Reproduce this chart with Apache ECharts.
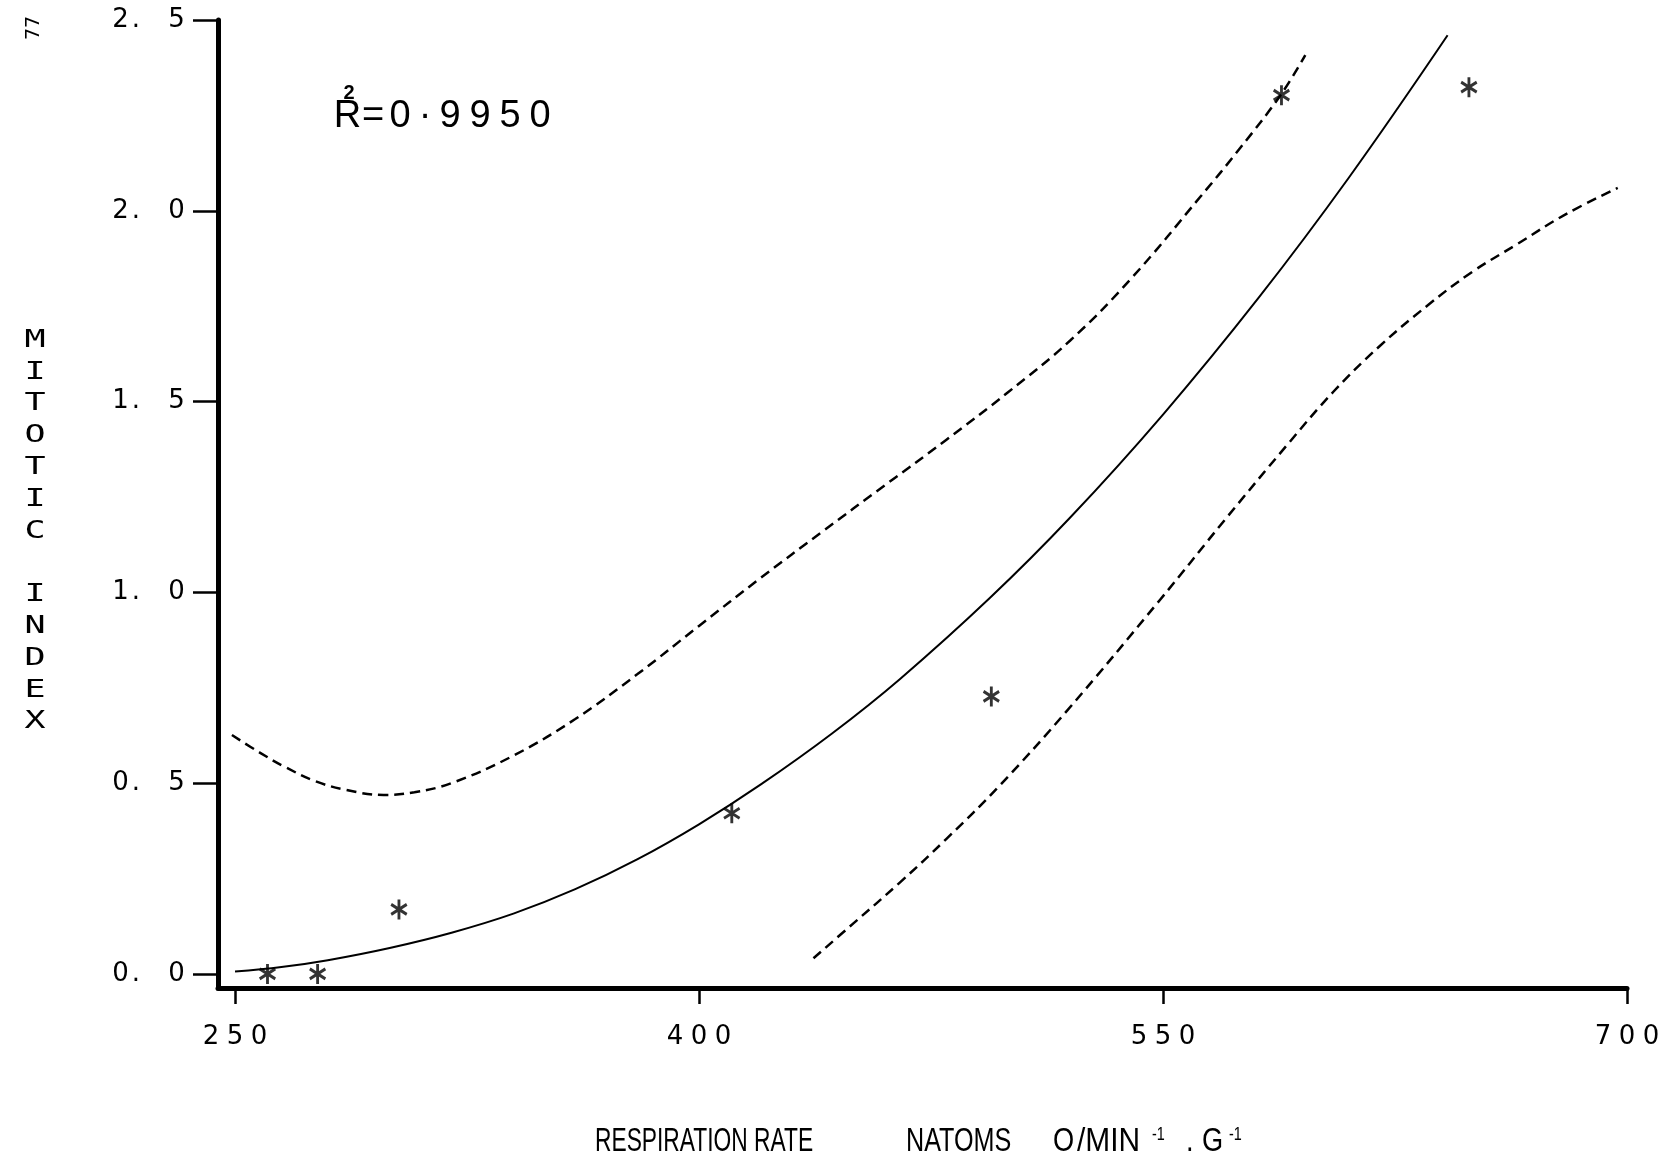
<!DOCTYPE html>
<html><head><meta charset="utf-8">
<script src="https://cdn.jsdelivr.net/npm/echarts@6/dist/echarts.min.js"></script>
<style>html,body{margin:0;padding:0;background:#fff}#c{width:1676px;height:1164px}</style>
</head><body><div id="c"></div>
<script>
// ---- data ----
const xTicks = [250, 400, 550, 700];
const yTicks = [0, 0.5, 1.0, 1.5, 2.0, 2.5];
const obsX = [260.5, 276.7, 303.0, 410.6, 494.5, 588.3, 648.9];
const obsY = [0.0, 0.0, 0.169, 0.421, 0.727, 2.303, 2.324];
const fitX = [250, 265, 280, 300, 320, 340, 360, 380, 400, 420, 443, 465, 494, 520, 550, 581, 610, 642];
const fitY = [0.006, 0.018, 0.036, 0.068, 0.108, 0.158, 0.222, 0.3, 0.392, 0.4965, 0.63, 0.773, 0.985, 1.196, 1.466, 1.773, 2.086, 2.46];
const upperX = [249, 258, 266, 276, 286, 298, 308, 320, 340, 360, 380, 400, 420, 440, 460, 480, 500, 520, 540, 562, 575, 588, 596];
const upperY = [0.626, 0.58, 0.543, 0.505, 0.482, 0.469, 0.476, 0.5, 0.572, 0.668, 0.785, 0.912, 1.038, 1.16, 1.28, 1.40, 1.525, 1.66, 1.825, 2.036, 2.165, 2.303, 2.408];
const lowerX = [437, 450, 465, 480, 497, 519, 549, 570, 590, 605, 620, 636, 650, 664, 680, 697];
const lowerY = [0.041, 0.133, 0.24, 0.354, 0.492, 0.69, 0.98, 1.19, 1.385, 1.525, 1.645, 1.755, 1.84, 1.91, 1.99, 2.06];
const rSquaredText = '0·9950';
const yTitle = 'MITOTIC INDEX';
const xTitleParts = ['RESPIRATION RATE', 'NATOMS', 'O', '/MIN', '-1', '.', 'G', '-1'];
const pageNo = '77';

// ---- layout (positions only) ----
const xTitleLeft = [595, 906, 1053, 1077, 1152, 1186, 1202, 1229];
const xTitleSup = [false, false, false, false, true, false, false, true];
const xTitleScale = [0.67, 0.74, 0.8, 0.88, 0.8, 0.8, 0.8, 0.8];

const zip = (a, b) => a.map((v, i) => [v, b[i]]);
const chart = echarts.init(document.getElementById('c'), null, {renderer: 'canvas'});

const xLabelFmt = v => String(v).split('').map(ch => '{d|' + ch + '}').join('');
const yLabelFmt = v => {
  const s = v.toFixed(1);
  return '{d|' + s[0] + '}{p|.}{s| }{d|' + s[2] + '}';
};

const asterisk = 'path://M10,0L10,20M1.34,5L18.66,15M1.34,15L18.66,5';

const RF = 'Liberation Sans';
const rRich = {
  r: {width: 27, align: 'center', fontSize: 38, fontFamily: RF},
  e: {width: 24, align: 'center', fontSize: 38, fontFamily: RF},
  d: {width: 30, align: 'center', fontSize: 38, fontFamily: RF},
  m: {width: 20, align: 'center', fontSize: 38, fontFamily: RF}
};
const rText = '{r|R}{e|=}' + rSquaredText.split('').map(ch => ch === '·' ? '{m|·}' : '{d|' + ch + '}').join('');

const tickFont = {fontFamily: 'DejaVu Sans', fontSize: 26, color: '#000'};

const titleEls = xTitleParts.map((t, i) => ({
  type: 'text', x: xTitleLeft[i], y: xTitleSup[i] ? 1135 : 1142, scaleX: xTitleScale[i],
  style: {text: t, fontSize: xTitleSup[i] ? 18 : 34, fontFamily: RF, fill: '#000',
          align: 'left', verticalAlign: 'middle', textAlign: 'left', textVerticalAlign: 'middle'}
}));

const option = {
  animation: false,
  backgroundColor: '#ffffff',
  grid: {left: 218, right: 49, top: 20, bottom: 176},
  xAxis: {
    type: 'value', min: 244.5, max: 700,
    splitLine: {show: false},
    axisLine: {onZero: false, lineStyle: {color: '#000', width: 5}},
    axisTick: {customValues: xTicks, length: 16, lineStyle: {color: '#000', width: 2.5}},
    axisLabel: {
      customValues: xTicks, margin: 36, color: '#000', fontFamily: 'DejaVu Sans', fontSize: 26,
      formatter: xLabelFmt,
      rich: {d: Object.assign({width: 24, align: 'center'}, tickFont)}
    }
  },
  yAxis: {
    type: 'value', min: -0.037, max: 2.5,
    splitLine: {show: false},
    axisLine: {onZero: false, lineStyle: {color: '#000', width: 5}},
    axisTick: {customValues: yTicks, length: 25, lineStyle: {color: '#000', width: 2.5}},
    axisLabel: {
      customValues: yTicks, margin: 32, color: '#000', fontFamily: 'DejaVu Sans', fontSize: 26,
      formatter: yLabelFmt,
      rich: {
        d: Object.assign({width: 19, align: 'center'}, tickFont),
        p: Object.assign({width: 12, align: 'center'}, tickFont),
        s: Object.assign({width: 25, align: 'center'}, tickFont)
      }
    }
  },
  graphic: [
    {type: 'text', x: 34, y: 28, rotation: Math.PI / 2,
     style: {text: pageNo, fontSize: 19, fontFamily: 'DejaVu Sans', fill: '#000', align: 'center', verticalAlign: 'middle', textAlign: 'center', textVerticalAlign: 'middle'}},
    {type: 'text', x: 35, y: 531, scaleX: 1.4,
     style: {text: yTitle.split('').map(c => c === ' ' ? '' : c).join('\n'), fontSize: 25, lineHeight: 31.8,
             fontFamily: 'DejaVu Sans Mono', fill: '#000', align: 'center', verticalAlign: 'middle', textAlign: 'center', textVerticalAlign: 'middle'}},
    {type: 'text', x: 334, y: 117,
     style: {text: rText, rich: rRich, fill: '#000', align: 'left', verticalAlign: 'middle', textAlign: 'left', textVerticalAlign: 'middle'}},
    {type: 'text', x: 349, y: 93,
     style: {text: '2', fontSize: 20, fontWeight: 'bold', fontFamily: RF, fill: '#000', align: 'center', verticalAlign: 'middle', textAlign: 'center', textVerticalAlign: 'middle'}}
  ].concat(titleEls),
  series: [
    {type: 'line', data: zip(fitX, fitY), smooth: 0.4, showSymbol: false, symbol: 'none',
     lineStyle: {color: '#000', width: 2}, z: 3},
    {type: 'line', data: zip(upperX, upperY), smooth: 0.4, showSymbol: false, symbol: 'none',
     lineStyle: {color: '#000', width: 2.5, type: [10, 6]}, z: 3},
    {type: 'line', data: zip(lowerX, lowerY), smooth: 0.4, showSymbol: false, symbol: 'none',
     lineStyle: {color: '#000', width: 2.5, type: [10, 6]}, z: 3},
    {type: 'scatter', data: zip(obsX, obsY), symbol: asterisk, symbolSize: [18, 20], symbolKeepAspect: true,
     itemStyle: {color: '#000', borderColor: '#000', borderWidth: 3}, z: 4}
  ]
};
chart.setOption(option);
</script>
</body></html>
